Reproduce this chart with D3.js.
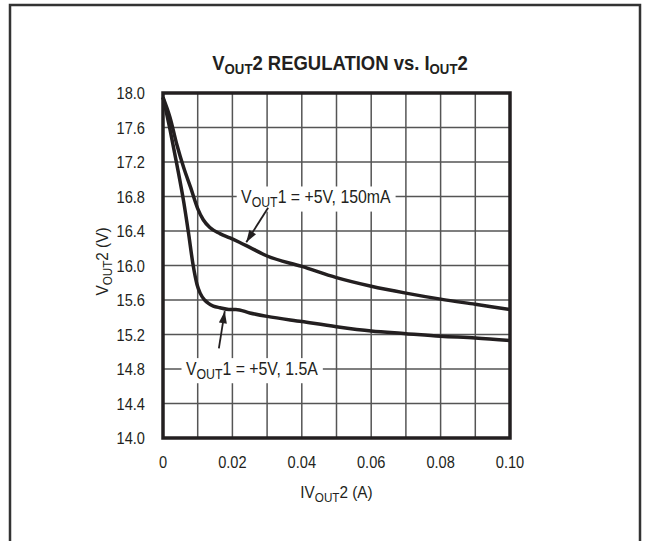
<!DOCTYPE html>
<html>
<head>
<meta charset="utf-8">
<script src="https://cdn.jsdelivr.net/npm/d3@7"></script>
<style>
  body { margin: 0; background: #fff; }
  text { font-family: "Liberation Sans", Arial, sans-serif; fill: #231f20; }
</style>
</head>
<body>
<div id="chart"></div>
<script>
// data
const xTicks = [0, 0.02, 0.04, 0.06, 0.08, 0.10];
const yTicks = [14.0, 14.4, 14.8, 15.2, 15.6, 16.0, 16.4, 16.8, 17.2, 17.6, 18.0];

// VOUT1 = +5V, 150mA
const load150mA_x = [0, 0.002, 0.004, 0.006, 0.008, 0.010, 0.0116, 0.0135, 0.0164, 0.0193, 0.022, 0.025, 0.030, 0.040, 0.050, 0.060, 0.070, 0.080, 0.090, 0.100];
const load150mA_y = [17.95, 17.72, 17.40, 17.13, 16.90, 16.66, 16.53, 16.44, 16.37, 16.32, 16.27, 16.21, 16.11, 15.99, 15.86, 15.76, 15.68, 15.61, 15.55, 15.49];

// VOUT1 = +5V, 1.5A
const load1p5A_x = [0, 0.002, 0.004, 0.006, 0.0073, 0.0087, 0.0098, 0.0107, 0.012, 0.0131, 0.0145, 0.0164, 0.019, 0.021, 0.025, 0.030, 0.040, 0.050, 0.060, 0.070, 0.080, 0.090, 0.100];
const load1p5A_y = [17.95, 17.58, 17.17, 16.73, 16.39, 16.00, 15.78, 15.68, 15.60, 15.56, 15.53, 15.51, 15.49, 15.49, 15.45, 15.41, 15.35, 15.29, 15.24, 15.21, 15.18, 15.16, 15.13];

// annotations: label position and arrow, in data units
const notes = [
  {sub: "OUT", rest: "1 = +5V, 150mA", x: 0.0225, y: 16.72, from: [0.0303, 16.67], to: [0.0240, 16.27]},
  {sub: "OUT", rest: "1 = +5V, 1.5A", x: 0.0066, y: 14.73, from: [0.0161, 15.04], to: [0.0178, 15.47]}
];

const W = 649, H = 541;
const margin = {top: 93, left: 163, right: 139, bottom: 103};
const w = W - margin.left - margin.right;
const h = H - margin.top - margin.bottom;
const narrow = 0.86; // the reference uses a condensed face

const svg = d3.select("#chart").append("svg")
  .attr("width", W).attr("height", H);

// adds a text with a smaller, lowered "OUT" part
function subText(sel, pre, sub, post, size, subSize) {
  const t = sel.append("text").style("font-size", size + "px");
  t.append("tspan").text(pre);
  t.append("tspan").text(sub).style("font-size", subSize + "px").attr("dy", 4);
  t.append("tspan").text(post).attr("dy", -4);
  return t;
}

// outer frame (open at the bottom)
svg.append("path")
  .attr("d", `M10,${H} L10,5 L640,5 L640,${H}`)
  .attr("fill", "none").attr("stroke", "#333").attr("stroke-width", 2.5);

// title
const title = svg.append("text")
  .attr("transform", "translate(340,70) scale(0.88,1)")
  .attr("text-anchor", "middle")
  .style("font-size", "21px").style("font-weight", "bold");
title.append("tspan").text("V");
title.append("tspan").text("OUT").style("font-size", "15px").attr("dy", 4);
title.append("tspan").text("2 REGULATION vs. I").attr("dy", -4);
title.append("tspan").text("OUT").style("font-size", "15px").attr("dy", 4);
title.append("tspan").text("2").attr("dy", -4);

const g = svg.append("g").attr("transform", `translate(${margin.left},${margin.top})`);

const x = d3.scaleLinear().domain([0, 0.1]).range([0, w]);
const y = d3.scaleLinear().domain([14, 18]).range([h, 0]);

// grid
g.append("g").selectAll("line")
  .data(d3.range(1, 10).map(i => i * 0.01))
  .join("line")
  .attr("x1", d => x(d)).attr("x2", d => x(d))
  .attr("y1", 0).attr("y2", h)
  .attr("stroke", "#555").attr("stroke-width", 1.5);
g.append("g").selectAll("line")
  .data(yTicks.slice(1, -1))
  .join("line")
  .attr("y1", d => y(d)).attr("y2", d => y(d))
  .attr("x1", 0).attr("x2", w)
  .attr("stroke", "#555").attr("stroke-width", 1.5);

// tick labels
g.append("g").selectAll("text")
  .data(yTicks)
  .join("text")
  .attr("transform", d => `translate(-18,${y(d) + 6}) scale(${narrow},1)`)
  .attr("text-anchor", "end")
  .style("font-size", "17px")
  .text(d => d.toFixed(1));
g.append("g").selectAll("text")
  .data(xTicks)
  .join("text")
  .attr("transform", d => `translate(${x(d)},${h + 30}) scale(${narrow},1)`)
  .attr("text-anchor", "middle")
  .style("font-size", "17px")
  .text(d => d === 0 ? "0" : d.toFixed(2));

// axis titles
subText(g, "IV", "OUT", "2 (A)", 17, 13)
  .attr("transform", `translate(${w / 2},${h + 60}) scale(0.9,1)`)
  .attr("text-anchor", "middle");
subText(g, "V", "OUT", "2 (V)", 17, 13)
  .attr("transform", `translate(-55,${h / 2 - 4}) rotate(-90) scale(0.9,1)`)
  .attr("text-anchor", "middle");

// curves
const line = d3.line()
  .x(d => x(d[0])).y(d => y(d[1]))
  .curve(d3.curveMonotoneX);

[[load150mA_x, load150mA_y], [load1p5A_x, load1p5A_y]].forEach(function(s) {
  g.append("path")
    .datum(d3.zip(s[0], s[1]))
    .attr("d", line)
    .attr("fill", "none")
    .attr("stroke", "#231f20")
    .attr("stroke-width", 3.5)
    .attr("stroke-linejoin", "round");
});

// arrow marker
svg.append("defs").append("marker")
  .attr("id", "arr")
  .attr("viewBox", "0 0 12 8")
  .attr("refX", 12).attr("refY", 4)
  .attr("markerWidth", 13).attr("markerHeight", 8)
  .attr("markerUnits", "userSpaceOnUse")
  .attr("orient", "auto")
  .append("path").attr("d", "M0,0 L12,4 L0,8 Z").attr("fill", "#231f20");

// annotations
notes.forEach(function(n) {
  const ng = g.append("g")
    .attr("transform", `translate(${x(n.x)},${y(n.y)}) scale(0.88,1)`);
  const box = ng.append("rect").attr("fill", "#fff");
  const t = subText(ng, "V", n.sub, n.rest, 18, 14);
  const bb = t.node().getBBox();
  box.attr("x", bb.x - 5).attr("y", bb.y - 1)
    .attr("width", bb.width + 10).attr("height", bb.height + 2);
  g.append("line")
    .attr("x1", x(n.from[0])).attr("y1", y(n.from[1]))
    .attr("x2", x(n.to[0])).attr("y2", y(n.to[1]))
    .attr("stroke", "#231f20").attr("stroke-width", 1.8)
    .attr("marker-end", "url(#arr)");
});

// plot frame
g.append("rect")
  .attr("width", w).attr("height", h)
  .attr("fill", "none").attr("stroke", "#231f20").attr("stroke-width", 3.5);
</script>
</body>
</html>
